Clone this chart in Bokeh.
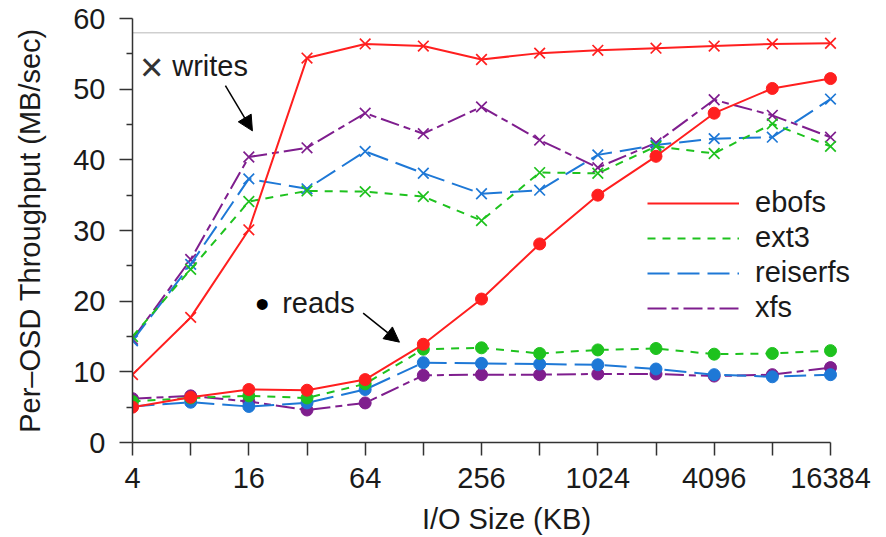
from bokeh.plotting import figure
from bokeh.models import (Range1d, FixedTicker, Legend, LegendItem, Label,
                          Arrow, NormalHead)
from bokeh.embed import file_html
from bokeh.resources import INLINE

# ---------------- data ----------------
sizes = [4, 8, 16, 32, 64, 128, 256, 512, 1024, 2048, 4096, 8192, 16384]

write_ebofs = [9.6, 17.7, 30.1, 54.4, 56.4, 56.1, 54.2, 55.1, 55.5, 55.8, 56.1, 56.4, 56.5]
write_ext3 = [15.0, 24.5, 34.1, 35.6, 35.5, 34.8, 31.4, 38.2, 38.1, 41.9, 40.9, 45.1, 41.9]
write_reiserfs = [14.4, 25.2, 37.3, 35.9, 41.2, 38.1, 35.2, 35.7, 40.7, 42.1, 43.0, 43.2, 48.6]
write_xfs = [14.6, 25.9, 40.4, 41.7, 46.6, 43.7, 47.5, 42.8, 38.9, 42.4, 48.5, 46.3, 43.2]

read_ebofs = [5.0, 6.4, 7.5, 7.4, 8.9, 13.9, 20.3, 28.1, 35.0, 40.5, 46.6, 50.1, 51.5]
read_ext3 = [5.8, 6.3, 6.6, 6.3, 8.3, 13.2, 13.4, 12.6, 13.1, 13.3, 12.5, 12.6, 13.0]
read_reiserfs = [5.1, 5.7, 5.1, 5.6, 7.5, 11.3, 11.2, 11.1, 11.0, 10.4, 9.6, 9.3, 9.6]
read_xfs = [6.2, 6.6, 5.8, 4.6, 5.6, 9.5, 9.6, 9.6, 9.7, 9.7, 9.4, 9.6, 10.6]

ceiling = 58.0

x_major = [4, 16, 64, 256, 1024, 4096, 16384]
x_minor = [8, 32, 128, 512, 2048, 8192]
y_major = [0, 10, 20, 30, 40, 50, 60]
y_minor = [5, 15, 25, 35, 45, 55]

series_names = ["ebofs", "ext3", "reiserfs", "xfs"]

# ---------------- styles ----------------
FONT = "Liberation Sans"
colors = {"ebofs": "#ff1f1f", "ext3": "#1ec21e", "reiserfs": "#1e78d6", "xfs": "#7f1e8e"}
dashes = {"ebofs": "solid", "ext3": "8 7", "reiserfs": "22 8", "xfs": "19 5 7 5"}

# frame: 4 KB at x=132 px, 16384 KB at x=830 px; frame extended to 880 px so that
# the legend text is not clipped, the axis line is bounded to the data range.
PX_PER_OCTAVE = (830 - 132) / 12.0
x_end = sizes[-1] * 2 ** (50 / PX_PER_OCTAVE)

p = figure(width=886, height=537, x_axis_type="log",
           x_range=Range1d(sizes[0], x_end), y_range=Range1d(0, 60),
           output_backend="svg", toolbar_location=None,
           min_border_left=132, min_border_right=6,
           min_border_top=18, min_border_bottom=95)
p.outline_line_color = None
p.grid.visible = False
p.background_fill_color = "white"

p.line([sizes[0], sizes[-1]], [ceiling, ceiling], line_color="#cfcfcf", line_width=1.5)

writes = {"ebofs": write_ebofs, "ext3": write_ext3, "reiserfs": write_reiserfs, "xfs": write_xfs}
reads = {"ebofs": read_ebofs, "ext3": read_ext3, "reiserfs": read_reiserfs, "xfs": read_xfs}

legend_renderers = {}
for name in ["xfs", "reiserfs", "ext3", "ebofs"]:
    c = colors[name]
    lw = p.line(sizes, writes[name], line_color=c, line_width=2, line_dash=dashes[name])
    p.scatter(sizes, writes[name], marker="x", size=15, line_color=c, line_width=1.7)
    p.line(sizes, reads[name], line_color=c, line_width=2, line_dash=dashes[name])
    p.scatter(sizes, reads[name], marker="circle", size=12, line_color=c, fill_color=c)
    legend_renderers[name] = lw

# axes
for ax in (p.xaxis[0], p.yaxis[0]):
    ax.axis_line_color = "#333333"
    ax.axis_line_width = 1.5
    ax.major_tick_line_color = "#333333"
    ax.minor_tick_line_color = "#333333"
    ax.major_tick_line_width = 1.5
    ax.minor_tick_line_width = 1.5
    ax.major_tick_in = 0
    ax.minor_tick_in = 0
    ax.major_label_text_font = FONT
    ax.major_label_text_font_size = "29px"
    ax.major_label_text_color = "#1a1a1a"
    ax.axis_label_text_font = FONT
    ax.axis_label_text_font_size = "29px"
    ax.axis_label_text_font_style = "normal"
    ax.axis_label_text_color = "#1a1a1a"

p.xaxis.bounds = (sizes[0], sizes[-1])
p.xaxis.ticker = FixedTicker(ticks=x_major, minor_ticks=x_minor)
p.xaxis.major_label_overrides = {v: str(v) for v in x_major}
p.xaxis.major_tick_out = 13
p.xaxis.minor_tick_out = 13
p.xaxis.major_label_standoff = 12
p.xaxis.axis_label = "I/O Size (KB)"
p.xaxis.axis_label_standoff = 12

p.yaxis.ticker = FixedTicker(ticks=y_major, minor_ticks=y_minor)
p.yaxis.major_tick_out = 13
p.yaxis.minor_tick_out = 6
p.yaxis.major_label_standoff = 14
p.yaxis.axis_label = "Per\u2013OSD Throughput (MB/sec)"
p.yaxis.axis_label_standoff = 24

# legend
legend = Legend(items=[LegendItem(label=n, renderers=[legend_renderers[n]]) for n in series_names],
                location=(515, 118), border_line_color=None, background_fill_alpha=0,
                padding=0, margin=0, spacing=2, glyph_width=92, glyph_height=20,
                label_height=20, label_standoff=16,
                label_text_font=FONT, label_text_font_size="29px", label_text_color="#1a1a1a")
p.add_layout(legend)

# annotations (writes / reads keys with arrows)
p.add_layout(Label(x=5.02, y=53.2, text="\u00d7", text_font=FONT, text_font_size="40px",
                   text_color="#333333", text_align="center", text_baseline="middle"))
p.add_layout(Label(x=6.42, y=53.3, text="writes", text_font=FONT, text_font_size="29px",
                   text_color="#1a1a1a", text_align="left", text_baseline="middle"))
p.add_layout(Arrow(x_start=12.1, y_start=50.5, x_end=16.7, y_end=44.1,
                   line_color="black", line_width=1.5,
                   end=NormalHead(size=15, fill_color="black", line_color="black")))

p.add_layout(Label(x=18.76, y=19.6, text="\u2022", text_font=FONT, text_font_size="40px",
                   text_color="black", text_align="center", text_baseline="middle"))
p.add_layout(Label(x=23.8, y=19.7, text="reads", text_font=FONT, text_font_size="29px",
                   text_color="#1a1a1a", text_align="left", text_baseline="middle"))
p.add_layout(Arrow(x_start=62.5, y_start=18.3, x_end=96.3, y_end=14.2,
                   line_color="black", line_width=1.5,
                   end=NormalHead(size=15, fill_color="black", line_color="black")))

open("out.html", "w").write(file_html(p, INLINE))
